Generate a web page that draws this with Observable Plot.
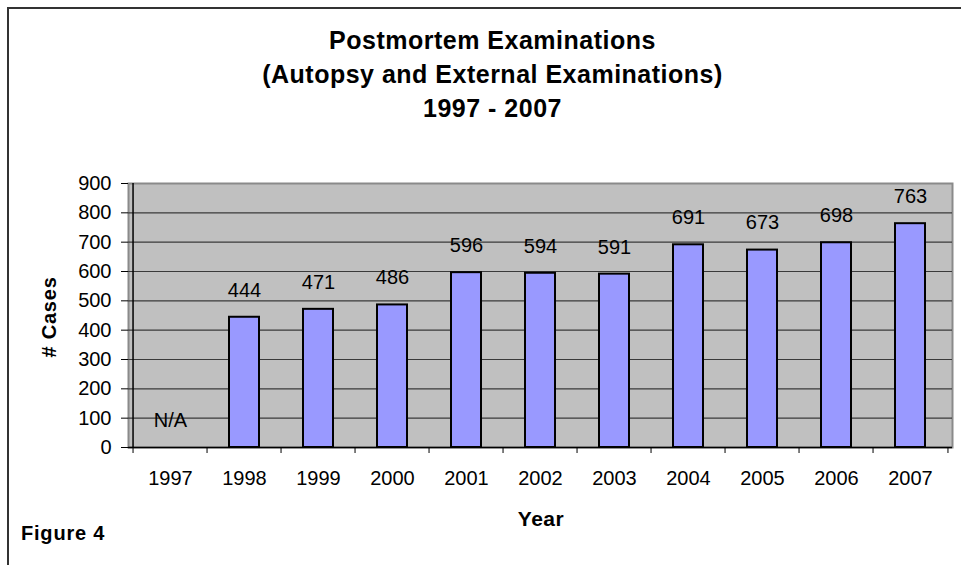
<!DOCTYPE html>
<html>
<head>
<meta charset="utf-8">
<script src="https://cdn.jsdelivr.net/npm/d3@7"></script>
<script src="https://cdn.jsdelivr.net/npm/@observablehq/plot@0.6"></script>
<style>
  body { margin: 0; background: #fff; font-family: "Liberation Sans", Arial, sans-serif; color: #000; }
  #wrap { position: relative; width: 961px; height: 565px; overflow: hidden; background: #fff; }
  .bl { position: absolute; left: 7px; top: 7px; width: 2px; height: 560px; background: #333; }
  .bt { position: absolute; left: 7px; top: 7px; height: 2px; width: 954px; background: #333; }
  .title { position: absolute; left: 0; top: 23px; width: 985px; text-align: center; font-weight: bold;
           font-size: 25px; letter-spacing: 0.5px; line-height: 34px; }
  .lab { position: absolute; font-weight: bold; white-space: nowrap; }
  #ylab { left: 49px; top: 317px; font-size: 20px; letter-spacing: 0.8px; transform: translate(-50%, -50%) rotate(-90deg); }
  #xlab { left: 541px; top: 519px; font-size: 21px; letter-spacing: 0.5px; transform: translate(-50%, -50%); }
  #fig { left: 21px; top: 533px; font-size: 20px; letter-spacing: 0.8px; transform: translateY(-50%); }
  #chart { position: absolute; left: 0; top: 150px; }
</style>
</head>
<body>
<div id="wrap">
  <div class="bl"></div>
  <div class="bt"></div>
  <div class="title">Postmortem Examinations<br>(Autopsy and External Examinations)<br>1997 - 2007</div>
  <div class="lab" id="ylab"># Cases</div>
  <div class="lab" id="xlab">Year</div>
  <div class="lab" id="fig">Figure 4</div>
  <div id="chart"></div>
</div>
<script>
// Data
const years = ["1997", "1998", "1999", "2000", "2001", "2002", "2003", "2004", "2005", "2006", "2007"];
const cases = [null, 444, 471, 486, 596, 594, 591, 691, 673, 698, 763];
const valueLabels = ["N/A", "444", "471", "486", "596", "594", "591", "691", "673", "698", "763"];
const yTicks = [0, 100, 200, 300, 400, 500, 600, 700, 800, 900];

const data = years.map((year, i) => ({year, value: cases[i], label: valueLabels[i]}));

const W = 961, H = 415;
const mL = 128, mR = 9, mT = 33, mB = 118;
const step = (W - mL - mR) / years.length;

const chart = Plot.plot({
  width: W,
  height: H,
  marginLeft: mL,
  marginRight: mR,
  marginTop: mT,
  marginBottom: mB,
  style: {fontFamily: '"Liberation Sans", Arial, sans-serif', fontSize: "20px", color: "#000", background: "transparent", overflow: "visible"},
  x: {domain: years, paddingInner: 0.6, paddingOuter: 0.3, label: null},
  y: {domain: [0, 900], label: null},
  marks: [
    Plot.frame({fill: "#C0C0C0", stroke: "#8a8a8a", strokeWidth: 2}),
    Plot.gridY(yTicks.filter(t => t > 0 && t < 900), {stroke: "#3a3a3a", strokeOpacity: 1, strokeWidth: 1.2}),
    Plot.barY(data.filter(d => d.value != null), {x: "year", y: "value", fill: "#9999FF", stroke: "#000", strokeWidth: 2}),
    Plot.text(data, {x: "year", y: d => d.value ?? 0, text: "label", dy: -27, fontSize: 20, fill: "#000"}),
    Plot.ruleY([0], {stroke: "#000", strokeWidth: 1.5}),
    Plot.ruleX([years[0]], {dx: -step / 2, stroke: "#000", strokeWidth: 1.5}),
    Plot.axisY({ticks: yTicks, tickSize: 7, tickPadding: 10, fontSize: 20, label: null, stroke: "#000"}),
    Plot.axisX({tickSize: 0, tickPadding: 23, fontSize: 20, label: null}),
    Plot.axisX({tickSize: 6, tickFormat: () => "", dx: -step / 2, label: null, stroke: "#000"}),
    Plot.axisX({ticks: [years[years.length - 1]], tickSize: 6, tickFormat: () => "", dx: step / 2, label: null, stroke: "#000"})
  ]
});
document.getElementById("chart").appendChild(chart);
</script>
</body>
</html>
